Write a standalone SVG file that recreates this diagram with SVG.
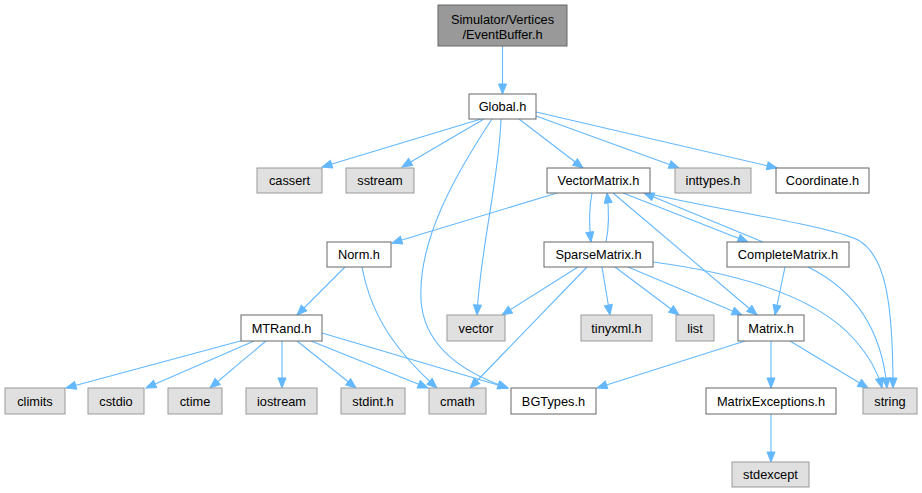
<svg xmlns="http://www.w3.org/2000/svg" width="922" height="493" viewBox="0 0 922 493">
<style>
.n rect{fill:#ffffff;stroke:#666666;stroke-width:1}
.s rect{fill:#e0e0e0;stroke:#999999;stroke-width:1}
.r rect{fill:#999999;stroke:#666666;stroke-width:1}
text{font-family:"Liberation Sans",Arial,Helvetica,sans-serif;font-size:12.8px;fill:#000000;text-anchor:middle}
.e path{fill:none;stroke:#63b8ff;stroke-width:1.1;marker-end:url(#ah)}
</style>
<defs>
<marker id="ah" markerUnits="userSpaceOnUse" markerWidth="12" markerHeight="10" refX="11" refY="4.5" orient="auto">
<path d="M1,0.5 L11,4.5 L1,8.5 z" fill="#63b8ff" stroke="#63b8ff" stroke-width="1"/>
</marker>
</defs>
<rect x="0" y="0" width="922" height="493" fill="#ffffff"/>
<g id="edges" class="e">
<path d="M502.5,46 L502.5,94"/>
<path d="M481,119 L322,167"/>
<path d="M484,119 L402,167"/>
<path d="M492,119 C455,175 418,240 421,300 C424,350 470,375 508,388"/>
<path d="M501,119 C499,180 480,250 477,315"/>
<path d="M519,119 L583,168"/>
<path d="M536,116 L679,168"/>
<path d="M536,112 L777,168"/>
<path d="M557,193 L392,243"/>
<path d="M592,193 C589,208 589,225 591,242"/>
<path d="M606,242 C609,228 609,210 607,193"/>
<path d="M623,193 L748,242"/>
<path d="M763,242 L644,193"/>
<path d="M613,193 L757,315"/>
<path d="M650,194 C730,212 830,226 858,240 C885,255 893,300 893,388"/>
<path d="M578,267 L502,315"/>
<path d="M587,267 L470,388"/>
<path d="M602,267 L610,315"/>
<path d="M615,267 L679,315"/>
<path d="M628,267 L742,315"/>
<path d="M653,262 C750,275 820,300 855,340 C868,355 878,372 882,388"/>
<path d="M785,267 L775,315"/>
<path d="M808,267 C855,290 882,330 887,388"/>
<path d="M745,341 L597,388"/>
<path d="M771,341 L771,388"/>
<path d="M790,341 L868,388"/>
<path d="M771,414 L771,462"/>
<path d="M345,267 L297,315"/>
<path d="M362,267 C372,320 400,355 437,388"/>
<path d="M244,340 L66,388"/>
<path d="M254,341 L146,388"/>
<path d="M266,341 L210,388"/>
<path d="M282,341 L282,388"/>
<path d="M297,341 L356,388"/>
<path d="M311,341 L428,388"/>
<path d="M322,333 L508,388"/>
</g>
<g id="eventbuffer" class="r"><rect x="438" y="5" width="129" height="41"/><text x="502.5" y="24">Simulator/Vertices</text><text x="502.5" y="39">/EventBuffer.h</text></g>
<g id="global" class="n"><rect x="469" y="94" width="67" height="25"/><text x="502.5" y="111">Global.h</text></g>
<g id="cassert" class="s"><rect x="257" y="168" width="65" height="25"/><text x="289.5" y="185">cassert</text></g>
<g id="sstream" class="s"><rect x="346" y="168" width="68" height="25"/><text x="380" y="185">sstream</text></g>
<g id="vectormatrix" class="n"><rect x="547" y="168" width="103" height="25"/><text x="598.5" y="185">VectorMatrix.h</text></g>
<g id="inttypes" class="s"><rect x="675" y="168" width="76" height="25"/><text x="713" y="185">inttypes.h</text></g>
<g id="coordinate" class="n"><rect x="776" y="168" width="93" height="25"/><text x="822.5" y="185">Coordinate.h</text></g>
<g id="norm" class="n"><rect x="327" y="242" width="64" height="25"/><text x="359" y="259">Norm.h</text></g>
<g id="sparsematrix" class="n"><rect x="544" y="242" width="109" height="25"/><text x="598.5" y="259">SparseMatrix.h</text></g>
<g id="completematrix" class="n"><rect x="727" y="242" width="122" height="25"/><text x="788" y="259">CompleteMatrix.h</text></g>
<g id="mtrand" class="n"><rect x="241" y="315" width="81" height="26"/><text x="281.5" y="332.5">MTRand.h</text></g>
<g id="vector" class="s"><rect x="447" y="315" width="58" height="26"/><text x="476" y="332.5">vector</text></g>
<g id="tinyxml" class="s"><rect x="581" y="315" width="71" height="26"/><text x="616.5" y="332.5">tinyxml.h</text></g>
<g id="list" class="s"><rect x="676" y="315" width="38" height="26"/><text x="695" y="332.5">list</text></g>
<g id="matrix" class="n"><rect x="738" y="315" width="66" height="26"/><text x="771" y="332.5">Matrix.h</text></g>
<g id="climits" class="s"><rect x="5" y="388" width="60" height="26"/><text x="35" y="405.5">climits</text></g>
<g id="cstdio" class="s"><rect x="88" y="388" width="56" height="26"/><text x="116" y="405.5">cstdio</text></g>
<g id="ctime" class="s"><rect x="168" y="388" width="54" height="26"/><text x="195" y="405.5">ctime</text></g>
<g id="iostream" class="s"><rect x="246" y="388" width="71" height="26"/><text x="281.5" y="405.5">iostream</text></g>
<g id="stdint" class="s"><rect x="341" y="388" width="64" height="26"/><text x="373" y="405.5">stdint.h</text></g>
<g id="cmath" class="s"><rect x="429" y="388" width="57" height="26"/><text x="457.5" y="405.5">cmath</text></g>
<g id="bgtypes" class="n"><rect x="511" y="388" width="85" height="26"/><text x="553.5" y="405.5">BGTypes.h</text></g>
<g id="matrixexceptions" class="n"><rect x="706" y="388" width="130" height="26"/><text x="771" y="405.5">MatrixExceptions.h</text></g>
<g id="string" class="s"><rect x="863" y="388" width="54" height="26"/><text x="890" y="405.5">string</text></g>
<g id="stdexcept" class="s"><rect x="732" y="462" width="77" height="25"/><text x="770.5" y="479">stdexcept</text></g>
</svg>
